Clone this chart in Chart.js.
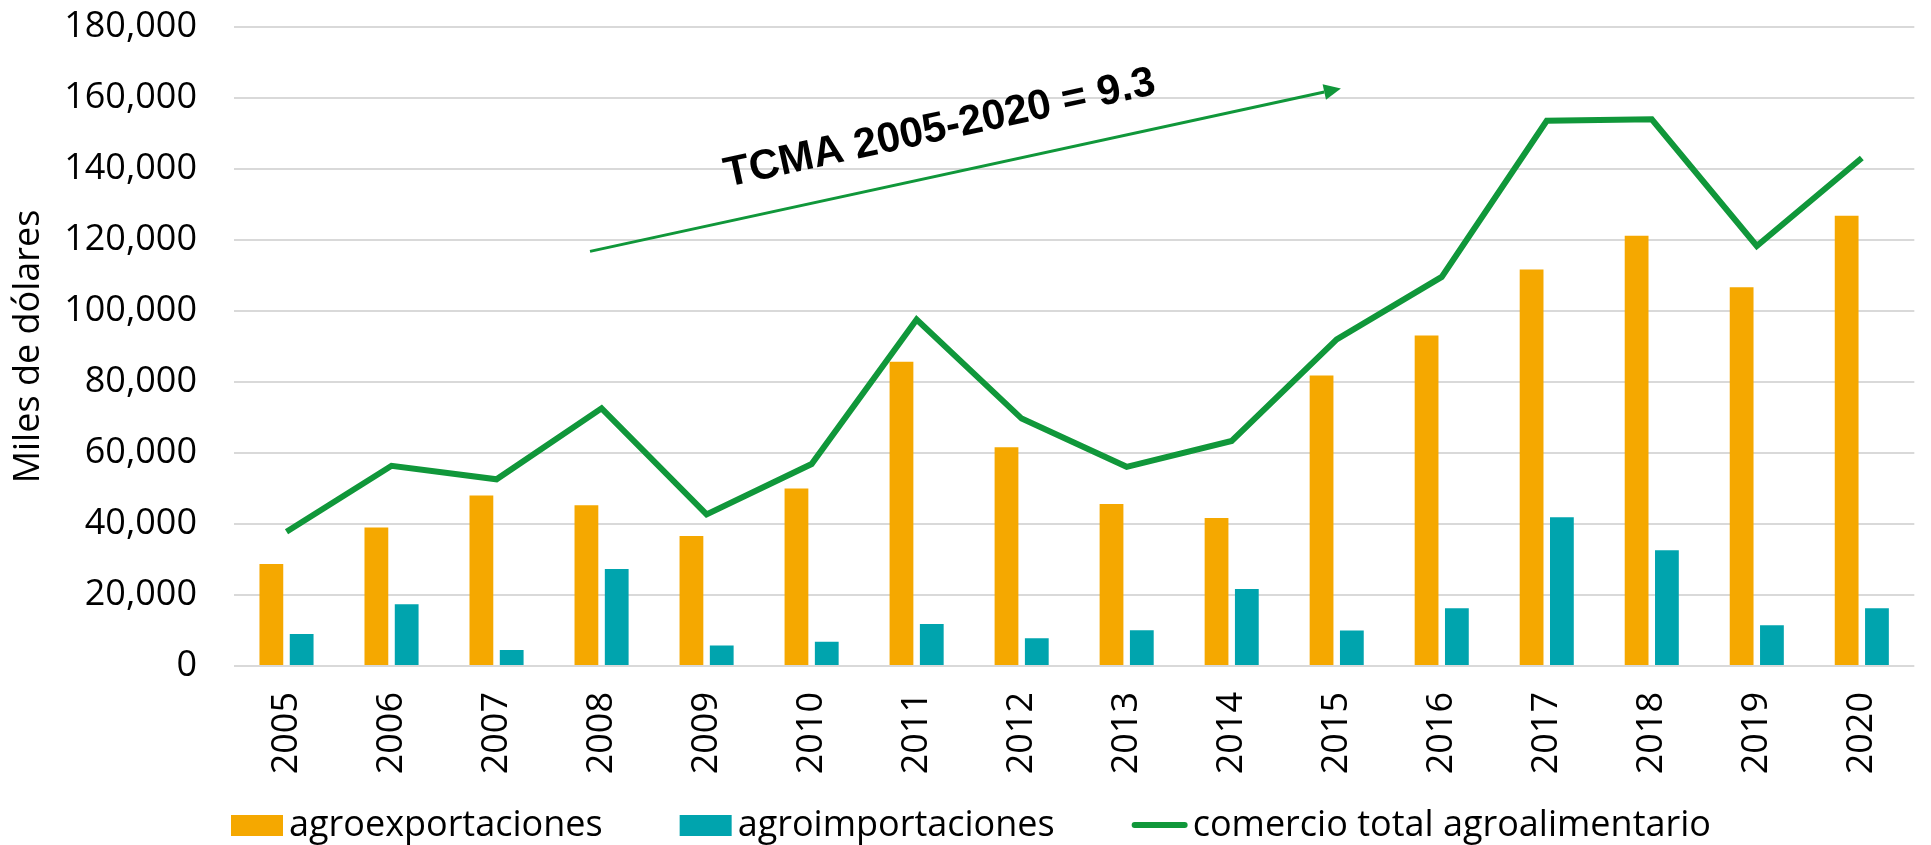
<!DOCTYPE html>
<html>
<head>
<meta charset="utf-8">
<title>Comercio agroalimentario 2005-2020</title>
<script src="https://cdn.jsdelivr.net/npm/chart.js@4.4.1/dist/chart.umd.min.js"></script>
<style>
  html, body { margin: 0; padding: 0; background: #fff; }
  #wrap { width: 1931px; height: 845px; }
</style>
</head>
<body>
<div id="wrap"><canvas id="tradeChart" width="1931" height="845"></canvas></div>
<script>
// ==================== DATA ====================
const years = ['2005', '2006', '2007', '2008', '2009', '2010', '2011', '2012',
  '2013', '2014', '2015', '2016', '2017', '2018', '2019', '2020'];
const agroexportaciones = [28700, 39000, 48000, 45300, 36600, 50000, 85700, 61600,
  45600, 41700, 81800, 93100, 111700, 121200, 106700, 126800];
const agroimportaciones = [9000, 17400, 4500, 27300, 5800, 6800, 11800, 7800,
  10100, 21700, 10000, 16300, 41900, 32600, 11500, 16300];
const comercioTotal = [37800, 56400, 52600, 72600, 42700, 56900, 97600, 69700,
  56100, 63400, 92000, 109600, 153600, 154000, 118300, 143100];
const seriesNames = ['agroexportaciones', 'agroimportaciones', 'comercio total agroalimentario'];
const yTicks = [0, 20000, 40000, 60000, 80000, 100000, 120000, 140000, 160000, 180000];
const yTitle = 'Miles de dólares';

// TCMA arrow, in axis units (category index, value)
const tcmaText = 'TCMA 2005-2020 = 9.3';
const tcmaFrom = { x: 2.89, y: 116800 };
const tcmaTo = { x: 10.04, y: 162700 };
const tcmaTextAt = { x: 6.22, y: 151300 };

const ORANGE = '#F5A800';
const TEAL = '#00A4AE';
const GREEN = '#10973A';

Chart.defaults.font.family = "'Open Sans', sans-serif";
Chart.defaults.font.size = 36;
Chart.defaults.color = '#000';

// arrow + rotated label
const tcmaAnnotation = {
  id: 'tcmaAnnotation',
  afterDatasetsDraw(chart) {
    const { ctx } = chart;
    const xs = chart.scales.x, ys = chart.scales.y;
    const x0 = xs.getPixelForValue(tcmaFrom.x), y0 = ys.getPixelForValue(tcmaFrom.y);
    const x1 = xs.getPixelForValue(tcmaTo.x), y1 = ys.getPixelForValue(tcmaTo.y);
    const ang = Math.atan2(y1 - y0, x1 - x0);
    const head = 17, half = 8;
    const bx = x1 - head * Math.cos(ang), by = y1 - head * Math.sin(ang);

    ctx.save();
    ctx.strokeStyle = GREEN;
    ctx.fillStyle = GREEN;
    ctx.lineWidth = 3;
    ctx.beginPath();
    ctx.moveTo(x0, y0);
    ctx.lineTo(bx, by);
    ctx.stroke();
    ctx.beginPath();
    ctx.moveTo(x1, y1);
    ctx.lineTo(bx + half * Math.sin(ang), by - half * Math.cos(ang));
    ctx.lineTo(bx - half * Math.sin(ang), by + half * Math.cos(ang));
    ctx.closePath();
    ctx.fill();

    ctx.translate(xs.getPixelForValue(tcmaTextAt.x), ys.getPixelForValue(tcmaTextAt.y));
    ctx.rotate(ang);
    ctx.font = "bold 42px 'Liberation Sans', Arial, sans-serif";
    ctx.fillStyle = '#000';
    ctx.textAlign = 'center';
    ctx.textBaseline = 'middle';
    ctx.fillText(tcmaText, 0, 0);
    ctx.restore();
  }
};

// legend row under the axis (boxes for bars, a short stroke for the line)
const legendRow = {
  id: 'legendRow',
  afterDraw(chart) {
    const { ctx } = chart;
    const base = chart.height - 9;
    let x = chart.chartArea.left - 3;
    ctx.save();
    ctx.font = "36px 'Open Sans', sans-serif";
    ctx.textBaseline = 'alphabetic';
    chart.data.datasets.forEach(ds => {
      if (ds.type === 'line') {
        ctx.strokeStyle = ds.borderColor;
        ctx.lineWidth = 6;
        ctx.lineCap = 'round';
        ctx.beginPath();
        ctx.moveTo(x + 3, base - 11);
        ctx.lineTo(x + 53, base - 11);
        ctx.stroke();
        x += 61;
      } else {
        ctx.fillStyle = ds.backgroundColor;
        ctx.fillRect(x, base - 21, 52, 21);
        x += 58;
      }
      ctx.fillStyle = '#000';
      ctx.fillText(ds.label, x, base);
      x += ctx.measureText(ds.label).width + 77;
    });
    ctx.restore();
  }
};

function renderTradeChart() {
  const ctx = document.getElementById('tradeChart');
  new Chart(ctx, {
    type: 'bar',
    data: {
      labels: years,
      datasets: [
        {
          label: seriesNames[0],
          data: agroexportaciones,
          backgroundColor: ORANGE,
          borderWidth: 0,
          categoryPercentage: 0.577,
          barPercentage: 0.785,
          order: 1
        },
        {
          label: seriesNames[1],
          data: agroimportaciones,
          backgroundColor: TEAL,
          borderWidth: 0,
          categoryPercentage: 0.577,
          barPercentage: 0.785,
          order: 1
        },
        {
          type: 'line',
          label: seriesNames[2],
          data: comercioTotal,
          borderColor: GREEN,
          backgroundColor: GREEN,
          borderWidth: 6,
          pointRadius: 0,
          tension: 0,
          fill: false,
          order: 0
        }
      ]
    },
    options: {
      responsive: false,
      animation: false,
      devicePixelRatio: 1,
      layout: { padding: { top: 27, right: 0, bottom: 59, left: 0 } },
      plugins: {
        legend: { display: false },
        tooltip: { enabled: false }
      },
      scales: {
        x: {
          grid: { display: false, drawTicks: false },
          border: { display: false },
          ticks: { minRotation: 90, maxRotation: 90, padding: 26, autoSkip: false },
          afterFit: (scale) => { scale.height = 120; }
        },
        y: {
          min: yTicks[0],
          max: yTicks[yTicks.length - 1],
          afterBuildTicks: (scale) => { scale.ticks = yTicks.map(v => ({ value: v })); },
          grid: { color: '#D9D9D9', lineWidth: 2, drawTicks: false },
          border: { display: false },
          ticks: { padding: 37 },
          title: { display: true, text: yTitle, padding: { top: 7, bottom: 0 } },
          afterFit: (scale) => {
            scale.width = 234;
            // the top label may overhang; keep the plot top at the layout padding
            scale.paddingTop = 0;
            scale.paddingBottom = 0;
          }
        }
      }
    },
    plugins: [tcmaAnnotation, legendRow]
  });
}

document.addEventListener('DOMContentLoaded', renderTradeChart);
</script>
</body>
</html>
